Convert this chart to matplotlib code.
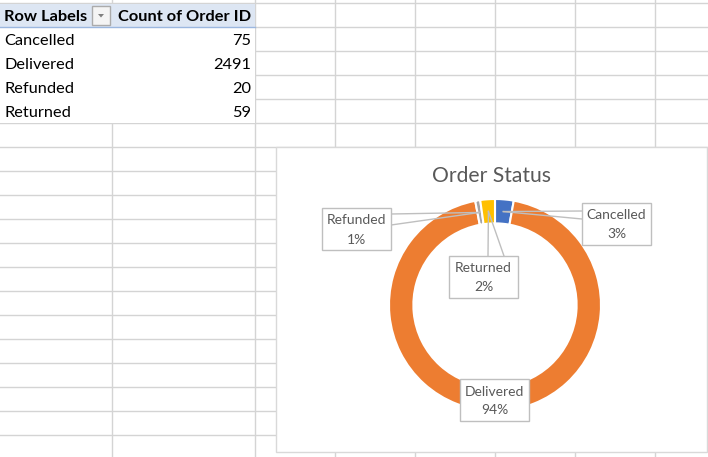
import matplotlib
matplotlib.use("Agg")
import matplotlib.pyplot as plt
from matplotlib.patches import Rectangle, Polygon
import numpy as np

# ---------------- data ----------------
row_labels = ["Cancelled", "Delivered", "Refunded", "Returned"]
order_counts = [75, 2491, 20, 59]
header_labels = ["Row Labels", "Count of Order ID"]
chart_title = "Order Status"
slice_colors = ["#4472C4", "#ED7D31", "#A5A5A5", "#FFC000"]

# ---------------- layout ----------------
W, H = 708, 457
FONT = "Lato"
fig = plt.figure(figsize=(W / 100, H / 100), dpi=100)
fig.patch.set_facecolor("white")

bg = fig.add_axes([0, 0, 1, 1])
bg.set_xlim(0, W)
bg.set_ylim(H, 0)
bg.axis("off")

grid_c = "#D4D4D4"
row_ys = np.arange(3, H, 24)
col_xs = [112, 255, 335, 415, 495, 575, 655]
for y in row_ys:
    bg.plot([0, W], [y, y], color=grid_c, lw=1, zorder=1)
for x in col_xs:
    bg.plot([x, x], [0, H], color=grid_c, lw=1, zorder=1)

# pivot table body (covers gridlines)
bg.add_patch(Rectangle((0, 27.5), 254.5, 95, facecolor="white", edgecolor="none", zorder=2))
# header fill
bg.add_patch(Rectangle((0, 3.5), 254.5, 23.5, facecolor="#DDE6F3", edgecolor="none", zorder=2))
bg.plot([0, 254.5], [27, 27], color="#9BB7DF", lw=1, zorder=3)

TS = 11.8
# header texts
bg.text(4, 17, header_labels[0], ha="left", va="center", fontsize=TS, fontweight="bold",
        family=FONT, color="black", zorder=4)
bg.text(251, 17, header_labels[1], ha="right", va="center", fontsize=TS, fontweight="bold",
        family=FONT, color="black", zorder=4)
# dropdown button
bg.add_patch(Rectangle((92, 6), 18, 19, facecolor="#F4F4F4", edgecolor="#ABABAB", lw=1, zorder=5))
bg.add_patch(Polygon([[98, 14], [104, 14], [101, 17.5]], closed=True, facecolor="#7F7F7F",
                     edgecolor="none", zorder=6))

for i, (lab, val) in enumerate(zip(row_labels, order_counts)):
    yc = 41 + 24 * i
    bg.text(4, yc, lab, ha="left", va="center", fontsize=TS, family=FONT, color="black", zorder=4)
    bg.text(251, yc, f"{val}", ha="right", va="center", fontsize=TS, family=FONT,
            color="black", zorder=4)

# chart area
bg.add_patch(Rectangle((276, 147), 431, 305, facecolor="white", edgecolor="#D9D9D9", lw=1, zorder=5))
bg.text(491, 176, chart_title, ha="center", va="center", fontsize=15.2, family=FONT,
        color="#595959", zorder=6)

# donut
CX, CY, R = 495, 305, 106
ax = fig.add_axes([(CX - R) / W, (H - CY - R) / H, 2 * R / W, 2 * R / H])
ax.pie(order_counts, colors=slice_colors, startangle=90, counterclock=False, radius=1,
       wedgeprops=dict(width=0.23, edgecolor="white", linewidth=1.5))
ax.set_xlim(-1, 1)
ax.set_ylim(-1, 1)
ax.axis("off")

# overlay for labels
ov = fig.add_axes([0, 0, 1, 1])
ov.set_xlim(0, W)
ov.set_ylim(H, 0)
ov.axis("off")
ov.patch.set_alpha(0)

total = float(sum(order_counts))
cum = np.cumsum([0] + order_counts)
mid_frac = [(cum[i] + cum[i + 1]) / 2 / total for i in range(len(order_counts))]

# box centres and pointer bases (layout)
boxes = {
    "Cancelled": ((616.5, 223.5), [(582, 211), (582, 219)]),
    "Delivered": ((494.5, 400), None),
    "Refunded": ((356.5, 229), [(391, 214), (391, 225)]),
    "Returned": ((483.5, 276.5), [(488, 256), (504, 256)]),
}
BW, BH = 69, 42
for i, lab in enumerate(row_labels):
    (bx, by), bases = boxes[lab]
    th = 2 * np.pi * mid_frac[i]
    rr = 0.885 * R
    tip = (CX + rr * np.sin(th), CY - rr * np.cos(th))
    if bases is not None:
        for b in bases:
            ov.plot([b[0], tip[0]], [b[1], tip[1]], color="#BFBFBF", lw=1, zorder=3)
    ov.add_patch(Rectangle((bx - BW / 2, by - BH / 2), BW, BH, facecolor="white",
                           edgecolor="#BFBFBF", lw=1, zorder=4))
    pct = order_counts[i] / total * 100
    ov.text(bx, by - 8.5, lab, ha="center", va="center", fontsize=10, family=FONT,
            color="#595959", zorder=5)
    ov.text(bx, by + 10.5, f"{pct:.0f}%", ha="center", va="center", fontsize=10, family=FONT,
            color="#595959", zorder=5)

fig.savefig("out.png", dpi=100)
